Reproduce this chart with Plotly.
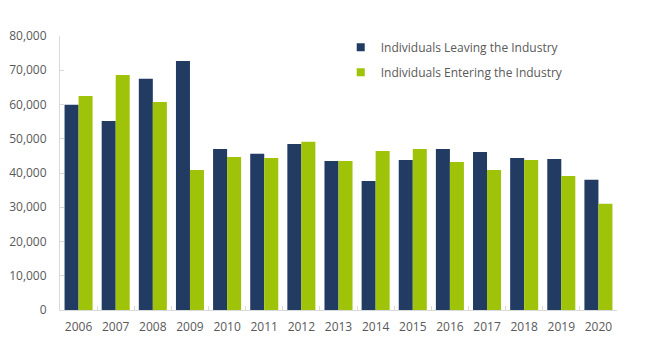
import plotly.graph_objects as go

years = ["2006", "2007", "2008", "2009", "2010", "2011", "2012", "2013",
         "2014", "2015", "2016", "2017", "2018", "2019", "2020"]
leaving = [59900, 55200, 67500, 72700, 47000, 45600, 48500, 43500,
           37700, 43800, 47000, 46100, 44400, 44100, 38000]
entering = [62500, 68600, 60700, 40900, 44700, 44400, 49100, 43500,
            46400, 47000, 43200, 40900, 43800, 39100, 31000]

name_leave = "Individuals Leaving the Industry"
name_enter = "Individuals Entering the Industry"
navy = "#223B63"
green = "#9FC309"
grey_text = "#595959"
axis_grey = "#D9D9D9"

fig = go.Figure()
fig.add_trace(go.Bar(x=years, y=leaving, name=name_leave, marker_color=navy,
                     marker_line_width=0, showlegend=False))
fig.add_trace(go.Bar(x=years, y=entering, name=name_enter, marker_color=green,
                     marker_line_width=0, showlegend=False))
# legend entries with small square markers
fig.add_trace(go.Scatter(x=[None], y=[None], mode="markers", name=name_leave,
                         marker=dict(symbol="square", size=8, color=navy),
                         legendgroup="a"))
fig.add_trace(go.Scatter(x=[None], y=[None], mode="markers", name=name_enter,
                         marker=dict(symbol="square", size=8, color=green),
                         legendgroup="b"))

fig.update_layout(
    width=658, height=339,
    margin=dict(l=60, r=41, t=36, b=29),
    paper_bgcolor="white", plot_bgcolor="white",
    barmode="group", bargap=0.245, bargroupgap=0,
    font=dict(family="Open Sans", size=12, color=grey_text),
    legend=dict(x=0.504, y=1.012, xanchor="left", yanchor="top",
                bgcolor="rgba(0,0,0,0)", traceorder="grouped",
                tracegroupgap=6, itemwidth=30,
                font=dict(size=12, color=grey_text)),
    xaxis=dict(type="category", showgrid=False, showline=True,
               linecolor=axis_grey, linewidth=1, ticks="inside",
               tickson="boundaries", ticklen=4, tickcolor=axis_grey,
               ticklabelstandoff=6, automargin=False),
    yaxis=dict(range=[0, 80000], dtick=10000, tickformat=",",
               showgrid=False, showline=True, linecolor=axis_grey,
               linewidth=1, ticks="inside", ticklen=4, tickcolor=axis_grey,
               zeroline=False, ticklabelstandoff=10, automargin=False),
)

fig.write_html("out.html")
